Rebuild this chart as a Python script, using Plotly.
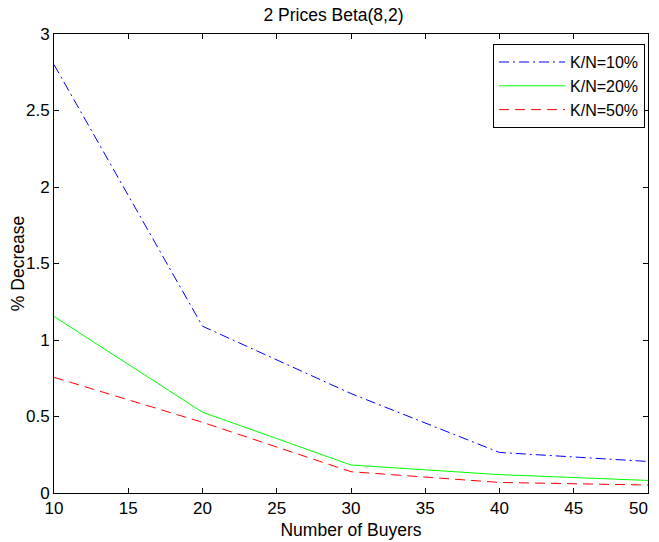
import plotly.graph_objects as go

buyers = [10, 20, 30, 40, 50]
kn10 = [2.80, 1.09, 0.65, 0.265, 0.206]
kn20 = [1.154, 0.528, 0.183, 0.12, 0.082]
kn50 = [0.756, 0.462, 0.139, 0.069, 0.052]

x_ticks = [10, 15, 20, 25, 30, 35, 40, 45, 50]
x_ticktext = ["10", "15", "20", "25", "30", "35", "40", "45", "50\u2007\u2007"]
y_ticks = [0, 0.5, 1, 1.5, 2, 2.5, 3]

fig = go.Figure()
fig.add_trace(go.Scatter(x=buyers, y=kn10, mode="lines", name="K/N=10%",
                         line=dict(color="#0000ff", width=1, dash="10px,4px,2px,4px")))
fig.add_trace(go.Scatter(x=buyers, y=kn20, mode="lines", name="K/N=20%",
                         line=dict(color="#00ff00", width=1)))
fig.add_trace(go.Scatter(x=buyers, y=kn50, mode="lines", name="K/N=50%",
                         line=dict(color="#ff0000", width=1, dash="10px,6px")))

axis_common = dict(showgrid=False, zeroline=False, showline=True, linecolor="black",
                   linewidth=1, mirror="ticks", ticks="inside", ticklen=5,
                   tickcolor="black", tickfont=dict(size=17, color="black"),
                   automargin=False, ticklabeloverflow="allow")

fig.update_layout(
    width=651, height=534,
    paper_bgcolor="white", plot_bgcolor="white",
    font=dict(family="Liberation Sans, Arial, sans-serif", color="black"),
    margin=dict(l=46, r=11, t=26, b=49),
    title=dict(text="2 Prices Beta(8,2)", x=0.5, xanchor="center", y=0.987, yanchor="middle",
               font=dict(size=17.5)),
    xaxis=dict(range=[10, 50], tickvals=x_ticks, ticktext=x_ticktext,
               title=dict(text="Number of Buyers", font=dict(size=17.5), standoff=6), **axis_common),
    yaxis=dict(range=[0, 3], tickvals=y_ticks,
               title=dict(text="% Decrease", font=dict(size=17.5), standoff=4), **axis_common),
    legend=dict(x=0.995, y=0.978, xanchor="right", yanchor="top",
                bordercolor="black", borderwidth=1, bgcolor="white",
                font=dict(size=16), tracegroupgap=0, itemwidth=66),
    showlegend=True,
)

fig.write_html("out.html")
